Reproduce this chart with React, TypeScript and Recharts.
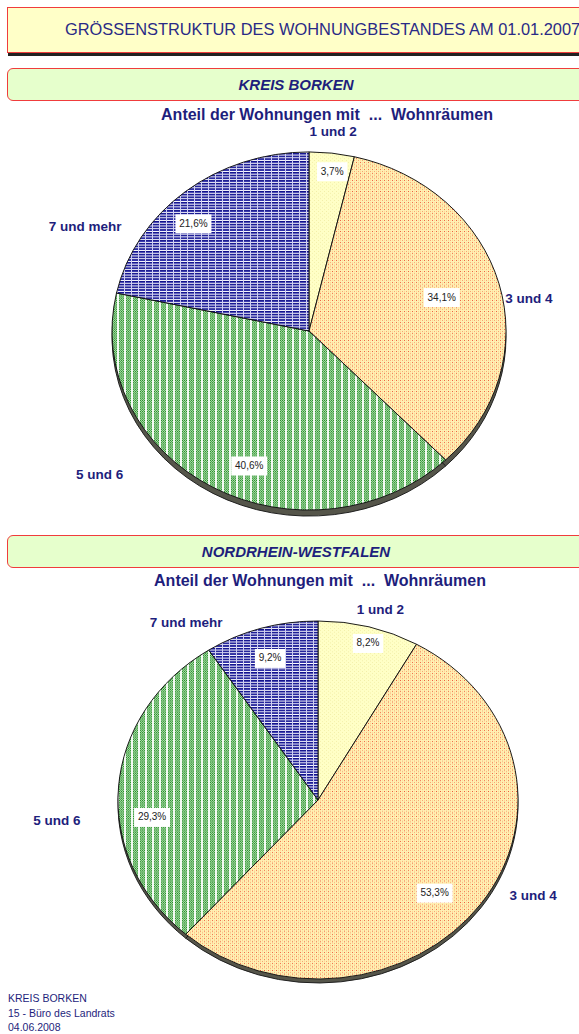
import React from "react";
import { PieChart, Pie, Cell } from "recharts";

// Anteil der Wohnungen nach Zahl der Wohnräume (in %)
const categories = ["1 und 2", "3 und 4", "5 und 6", "7 und mehr"];
const borkenValues = [3.7, 34.1, 40.6, 21.6];
const nrwValues = [8.2, 53.3, 29.3, 9.2];

const NAVY = "#1e1e7c";
const FONT = "'Liberation Sans', Arial, sans-serif";
const FILLS = ["url(#patYellow)", "url(#patOrange)", "url(#patGreen)", "url(#patBlue)"];

// label placement like the excel original (angle in degrees, factor of the ellipse radii)
const borkenLayout = {
  names: [[83.7, 1.12], [9.1, 1.13], [-143.0, 1.33], [152.9, 1.277]],
  pcts: [[82.5, 0.9], [15.7, 0.7], [-112.0, 0.81], [134.3, 0.84]],
};
const nrwLayout = {
  names: [[73.7, 1.11], [-26.3, 1.2], [-175.1, 1.31], [123.7, 1.189]],
  pcts: [[74.1, 0.912], [-41.6, 0.78], [-173.5, 0.835], [106.8, 0.829]],
};

const RAD = Math.PI / 180;
const fmt = (v: number) => v.toFixed(1).replace(".", ",") + "%";

function Patterns() {
  return (
    <svg width={0} height={0} style={{ position: "absolute" }}>
      <defs>
        <pattern id="patYellow" width={4} height={4} patternUnits="userSpaceOnUse">
          <rect width={4} height={4} fill="#ffffc6" />
          <rect x={0} y={0} width={1} height={1} fill="#f2eea8" />
          <rect x={2} y={2} width={1} height={1} fill="#f2eea8" />
        </pattern>
        <pattern id="patOrange" width={4} height={4} patternUnits="userSpaceOnUse">
          <rect width={4} height={4} fill="#fff0b4" />
          <rect x={0} y={0} width={1} height={1} fill="#ee5a3c" />
          <rect x={2} y={2} width={1} height={1} fill="#f8a070" />
          <rect x={2} y={0} width={1} height={1} fill="#ffd890" />
          <rect x={0} y={2} width={1} height={1} fill="#ffd890" />
        </pattern>
        <pattern id="patGreen" width={7} height={4} patternUnits="userSpaceOnUse">
          <rect width={7} height={4} fill="#b0dcb0" />
          <rect x={0} y={0} width={1} height={1} fill="#238c23" />
          <rect x={2} y={0} width={1} height={1} fill="#238c23" />
          <rect x={4} y={0} width={1} height={1} fill="#238c23" />
          <rect x={1} y={1} width={1} height={1} fill="#48a848" />
          <rect x={3} y={1} width={1} height={1} fill="#48a848" />
          <rect x={0} y={2} width={1} height={1} fill="#238c23" />
          <rect x={2} y={2} width={1} height={1} fill="#238c23" />
          <rect x={4} y={2} width={1} height={1} fill="#238c23" />
          <rect x={1} y={3} width={1} height={1} fill="#48a848" />
          <rect x={3} y={3} width={1} height={1} fill="#48a848" />
          <rect x={5} y={0} width={2} height={4} fill="#f4fbf4" />
        </pattern>
        <pattern id="patBlue" width={7} height={3} patternUnits="userSpaceOnUse">
          <rect width={7} height={3} fill="#10108a" />
          <rect x={0} y={1} width={7} height={1} fill="#3434aa" />
          <rect x={0} y={2} width={7} height={1} fill="#ffffff" />
          <rect x={5} y={0} width={1} height={3} fill="#d0d0f4" />
        </pattern>
      </defs>
    </svg>
  );
}

function makeLabel(layout: { names: number[][]; pcts: number[][] }, k: number) {
  return (props: any) => {
    const { cx, cy, outerRadius, index, value } = props;
    const rx = outerRadius;
    const ry = outerRadius * k;
    const [na, nf] = layout.names[index];
    const [pa, pf] = layout.pcts[index];
    const nx = cx + rx * nf * Math.cos(na * RAD);
    const ny = cy - ry * nf * Math.sin(na * RAD);
    const px = cx + rx * pf * Math.cos(pa * RAD);
    const py = cy - ry * pf * Math.sin(pa * RAD);
    const txt = fmt(value);
    const w = txt.length * 5.6 + 8;
    return (
      <g>
        <rect x={px - w / 2} y={py - 9} width={w} height={19} fill="#ffffff" />
        <text x={px} y={py} textAnchor="middle" dominantBaseline="central" fontSize={10} fill="#222" fontFamily={FONT}>
          {txt}
        </text>
        <text x={nx} y={ny} textAnchor="middle" dominantBaseline="central" fontSize={13.5} fontWeight="bold" fill={NAVY} fontFamily={FONT}>
          {categories[index]}
        </text>
      </g>
    );
  };
}

function RoomPie({ id, values, layout, cx, cy, r, k, depth, top, h }: any) {
  const data = categories.map((name, i) => ({ name, value: values[i] }));
  // squash the sectors vertically for the tilted excel look; labels stay unscaled
  const css = `.${id} path.recharts-sector { transform-origin: ${cx}px ${cy}px; transform: scaleY(${k}); }`;
  return (
    <div className={id} style={{ position: "absolute", left: 0, top }}>
      <style>{css}</style>
      <PieChart width={579} height={h} margin={{ top: 0, right: 0, bottom: 0, left: 0 }}>
        <Pie data={data} dataKey="value" cx={cx} cy={cy + depth / k} outerRadius={r} startAngle={90} endAngle={-270}
          isAnimationActive={false} stroke="none" fill="#55554a">
          {data.map((d) => (
            <Cell key={d.name} fill="#55554a" stroke="#1a1a1a" strokeWidth={1} />
          ))}
        </Pie>
        <Pie data={data} dataKey="value" cx={cx} cy={cy} outerRadius={r} startAngle={90} endAngle={-270}
          isAnimationActive={false} stroke="#111" strokeWidth={1} labelLine={false} label={makeLabel(layout, k)}>
          {data.map((d, i) => (
            <Cell key={d.name} fill={FILLS[i]} stroke="#111" strokeWidth={1} />
          ))}
        </Pie>
      </PieChart>
    </div>
  );
}

function Banner({ top, text }: { top: number; text: string }) {
  return (
    <div style={{
      position: "absolute", left: 7, top, width: 600, height: 31, background: "#e6ffcc",
      border: "1px solid #f03c3c", borderRadius: 6, fontFamily: FONT, fontWeight: "bold",
      fontStyle: "italic", fontSize: 15, color: NAVY, lineHeight: "32px",
    }}>
      <span style={{ position: "absolute", left: 0, width: 576, textAlign: "center" }}>{text}</span>
    </div>
  );
}

function Subtitle({ top, center }: { top: number; center: number }) {
  return (
    <div style={{
      position: "absolute", left: center - 250, width: 500, top, textAlign: "center",
      fontFamily: FONT, fontWeight: "bold", fontSize: 16, color: NAVY, whiteSpace: "pre",
    }}>
      {"Anteil der Wohnungen mit  ...  Wohnräumen"}
    </div>
  );
}

export default function App() {
  return (
    <div style={{ position: "absolute", left: 0, top: 0, width: 579, height: 1034, overflow: "hidden", background: "#fff" }}>
      <Patterns />
      <div style={{
        position: "absolute", left: 7, top: 7, width: 600, height: 44, background: "#ffffc8",
        border: "1px solid #f03c3c", boxShadow: "1px 3px 0 #222", fontFamily: FONT, fontSize: 16.4,
        color: "#2a2a86", lineHeight: "42px", whiteSpace: "nowrap",
      }}>
        <span style={{ position: "absolute", left: 57 }}>GRÖSSENSTRUKTUR DES WOHNUNGBESTANDES AM 01.01.2007</span>
      </div>

      <Banner top={68} text="KREIS BORKEN" />
      <Subtitle top={106} center={327} />
      <RoomPie id="pieBorken" values={borkenValues} layout={borkenLayout} cx={309} cy={226} r={197} k={0.909}
        depth={6} top={105} h={430} />

      <Banner top={535} text="NORDRHEIN-WESTFALEN" />
      <Subtitle top={572} center={320} />
      <RoomPie id="pieNrw" values={nrwValues} layout={nrwLayout} cx={318} cy={230} r={200} k={0.895}
        depth={4} top={570} h={425} />

      <div style={{ position: "absolute", left: 8, top: 991, fontFamily: FONT, fontSize: 10.5, color: NAVY, lineHeight: "14.5px" }}>
        <div>KREIS BORKEN</div>
        <div>15 - Büro des Landrats</div>
        <div>04.06.2008</div>
      </div>
    </div>
  );
}
